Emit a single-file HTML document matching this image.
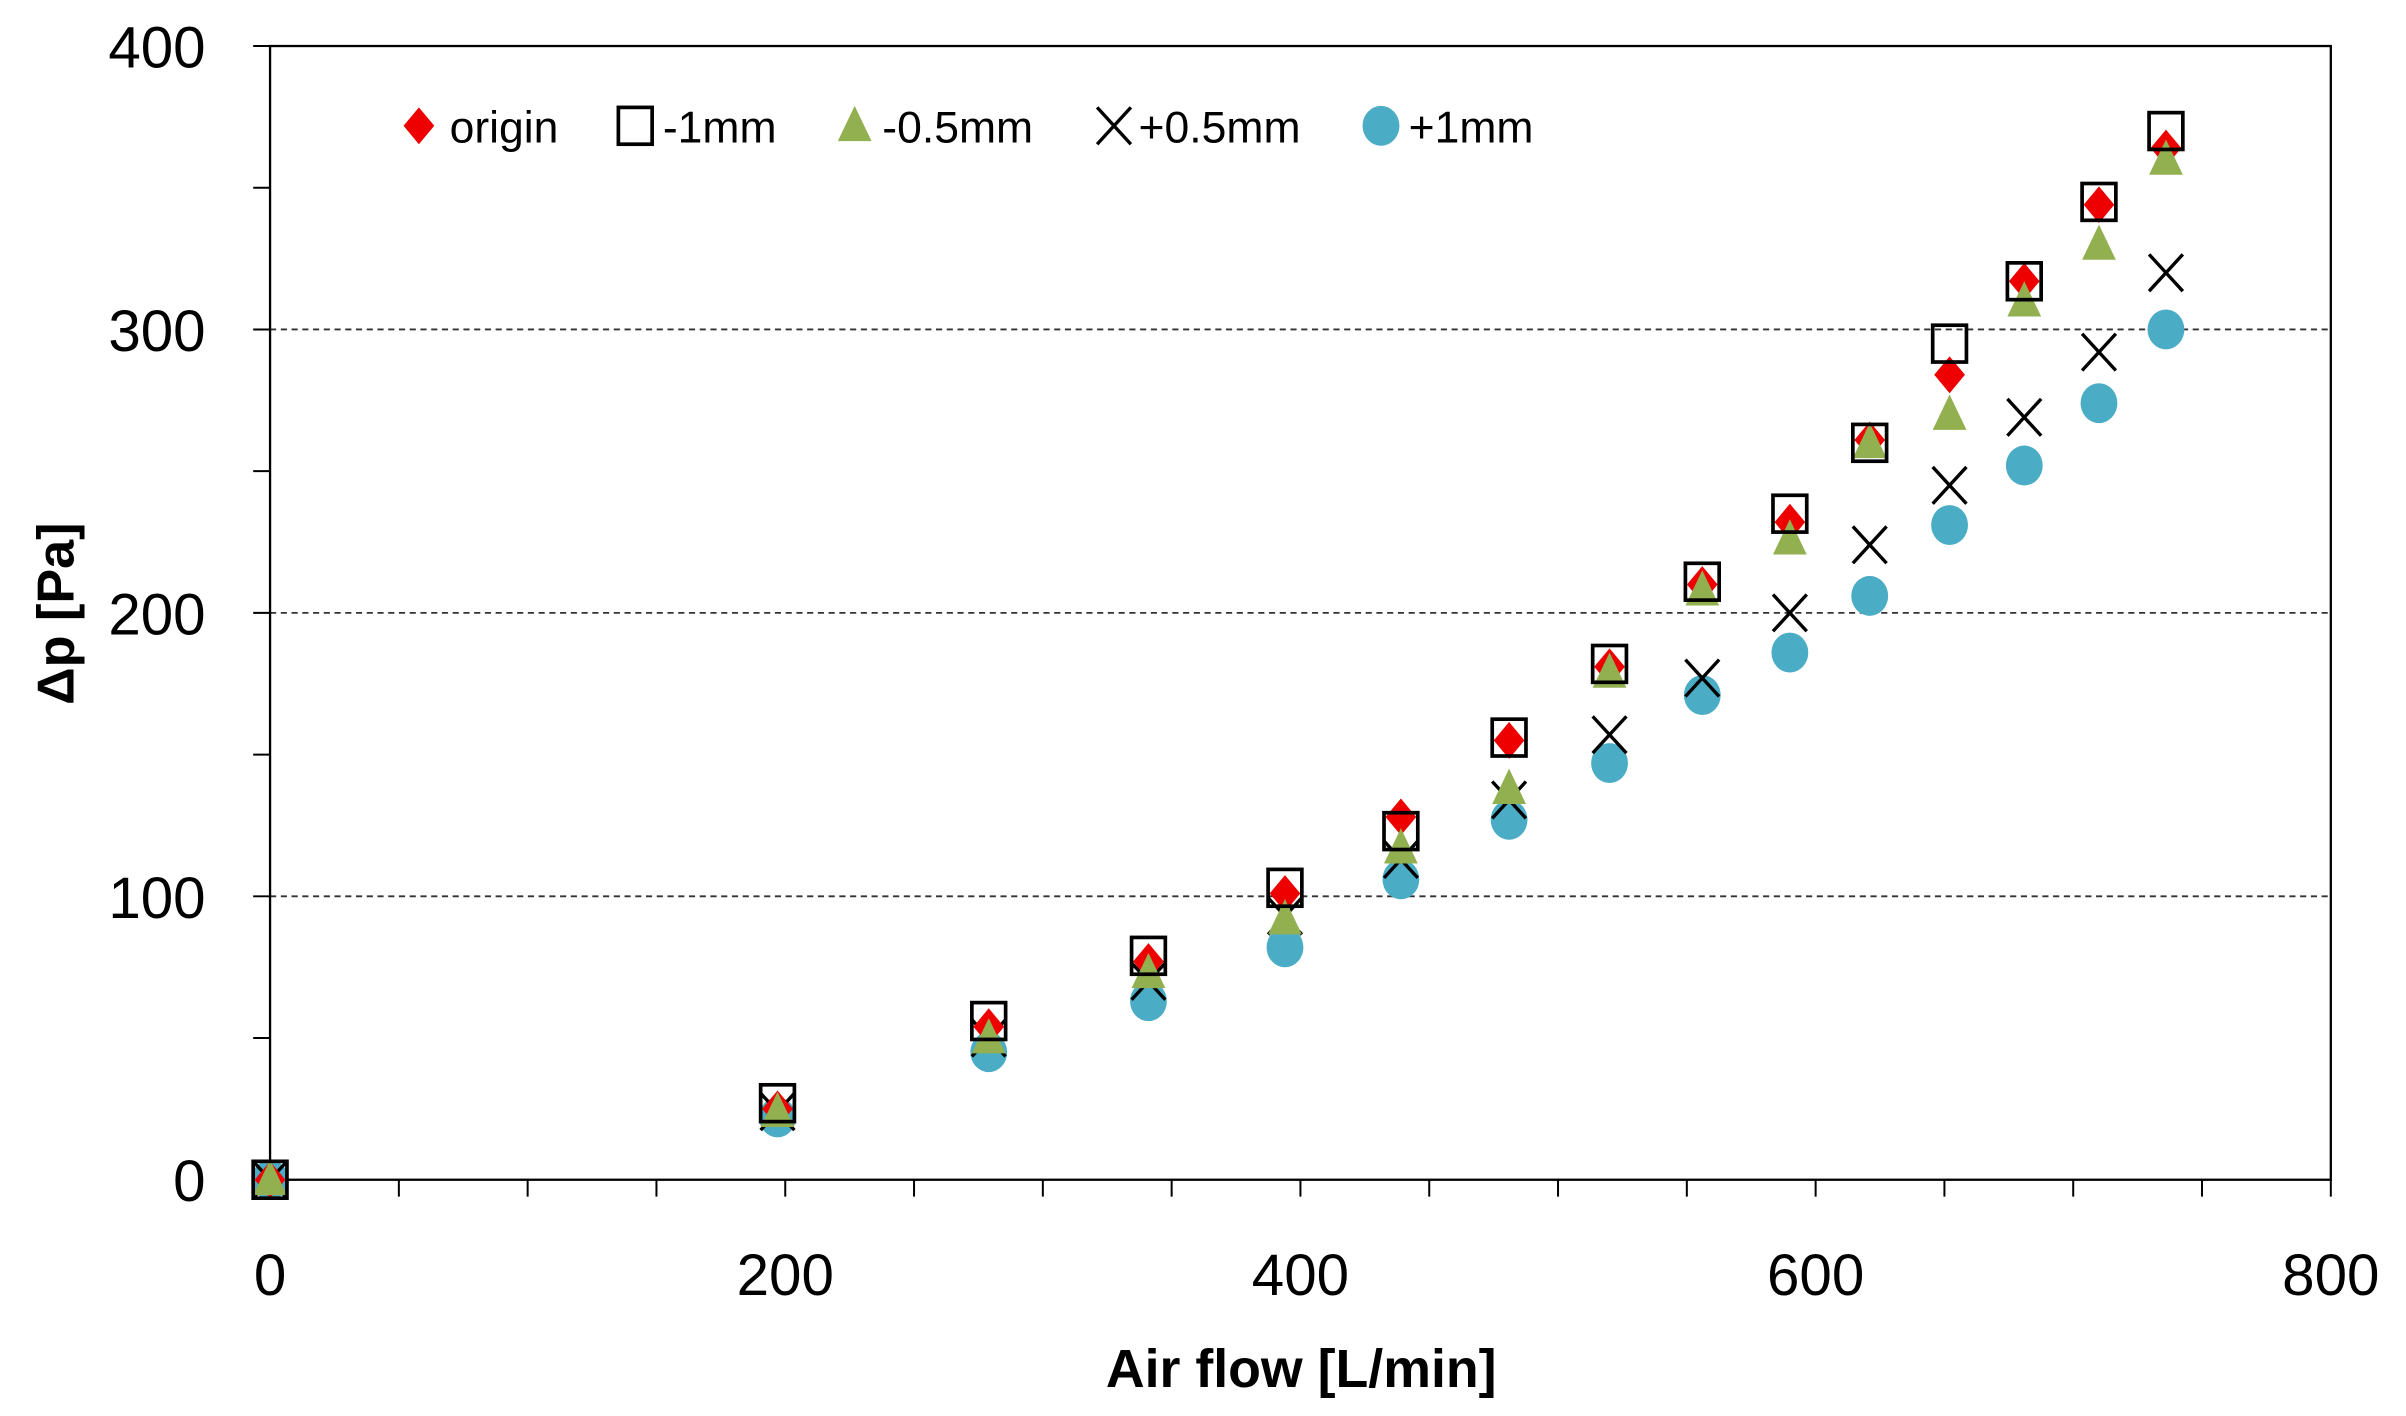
<!DOCTYPE html>
<html><head><meta charset="utf-8"><style>
html,body{margin:0;padding:0;background:#fff;}
svg{display:block;}
text{font-family:"Liberation Sans",sans-serif;}
</style></head><body>
<svg id="chart" width="2406" height="1416" viewBox="0 0 1568 923" preserveAspectRatio="none" xmlns="http://www.w3.org/2000/svg">
<g id="grid"></g>
<g id="axes"></g>
<g id="marks"></g>
<g id="legend"></g>
<text x="0" y="0" transform="translate(48,400) rotate(-90)" text-anchor="middle" font-size="34" font-weight="bold" fill="#000">Δp [Pa]</text>
<text x="848" y="904" text-anchor="middle" font-size="35" font-weight="bold" fill="#000">Air flow [L/min]</text>
</svg>
<script>
const flow = [0,197,279,341,394,439,481,520,556,590,621,652,681,710,736];
const origin = [0,25,54,77,101,128,155,181,210,232,261,284,317,344,364];
const minus1 = [0,27,56,79,103,123,156,182,211,235,260,295,317,345,370];
const minus05 = [0,24,50,73,92,117,138,179,208,226,260,270,310,330,360];
const plus05 = [0,24,50,70,93,113,134,157,177,200,224,245,269,292,320];
const plus1 = [0,22,45,63,82,106,127,147,171,186,206,231,252,274,300];
const xTicks = [0,200,400,600,800];
const yTicks = [0,100,200,300,400];
const legendLabels = ["origin","-1mm","-0.5mm","+0.5mm","+1mm"];

const NS="http://www.w3.org/2000/svg";
const X0=176,X1=1519,Y0=769,Y1=30;
const xs=v=>X0+(v/800)*(X1-X0);
const ys=v=>Y0-(v/400)*(Y0-Y1);
function mk(tag,attrs,parent){const e=document.createElementNS(NS,tag);for(const k in attrs)e.setAttribute(k,attrs[k]);parent.appendChild(e);return e;}
const grid=document.getElementById('grid'),axes=document.getElementById('axes'),marks=document.getElementById('marks'),legend=document.getElementById('legend');

[100,200,300].forEach(v=>{
  const l=mk('line',{x1:X0,x2:X1,y1:ys(v),y2:ys(v),stroke:'#333','stroke-width':1.2,'stroke-dasharray':'4,3'},grid);
  
  
});
const frame=mk('rect',{x:X0,y:Y1,width:X1-X0,height:Y0-Y1,fill:'none',stroke:'#000','stroke-width':1.5},axes);


for(let v=0;v<=400;v+=50){
  const t=mk('line',{x1:X0-11,x2:X0,y1:ys(v),y2:ys(v),stroke:'#000','stroke-width':1.3},axes);
  
  
}
for(let v=0;v<=800;v+=50){
  const t=mk('line',{x1:xs(v),x2:xs(v),y1:Y0,y2:Y0+11,stroke:'#000','stroke-width':1.3},axes);
  
  
}
yTicks.forEach(v=>{
  const t=mk('text',{x:134,y:ys(v)+14,'text-anchor':'end','font-size':38,fill:'#000'},axes);
  t.textContent=v;
  
  
});
xTicks.forEach(v=>{
  const t=mk('text',{x:xs(v),y:844,'text-anchor':'middle','font-size':38,fill:'#000'},axes);
  t.textContent=v;
  
  
});

function drawMarker(type,cx,cy,parent){
  let e;
  if(type==='diamond') e=mk('polygon',{points:`${cx},${cy-12} ${cx+10},${cy} ${cx},${cy+12} ${cx-10},${cy}`,fill:'#ee0000'},parent);
  else if(type==='square') e=mk('rect',{x:cx-11,y:cy-12,width:22,height:24,fill:'none',stroke:'#000','stroke-width':2.4},parent);
  else if(type==='triangle') e=mk('polygon',{points:`${cx},${cy-13} ${cx+11},${cy+10} ${cx-11},${cy+10}`,fill:'#92b050'},parent);
  else if(type==='cross') e=mk('path',{d:`M${cx-11},${cy-12}L${cx+11},${cy+12}M${cx+11},${cy-12}L${cx-11},${cy+12}`,stroke:'#000','stroke-width':2.2,fill:'none'},parent);
  else e=mk('ellipse',{cx:cx,cy:cy,rx:12,ry:13,fill:'#4bacc6'},parent);
  return e;
}
const order=['diamond','square','triangle','cross','circle'];
[[plus1,'circle','plus-1mm'],[plus05,'cross','plus-0-5mm'],[origin,'diamond','origin'],[minus05,'triangle','minus-0-5mm'],[minus1,'square','minus-1mm']].forEach(([vals,type,nm])=>{
  const g=mk('g',{},marks);
  
  
  vals.forEach((v,i)=>{
    const m=drawMarker(type,xs(flow[i]),ys(v),g);
    
    
  });
});
const legX=[273,414,557,726,900],legTX=[293,432,575,742,918];
order.forEach((type,i)=>{
  const g=mk('g',{},legend);
  
  
  drawMarker(type,legX[i],82,g);
  const t=mk('text',{x:legTX[i],y:93,'font-size':29,fill:'#000'},g);
  t.textContent=legendLabels[i];
});
</script>
</body></html>
